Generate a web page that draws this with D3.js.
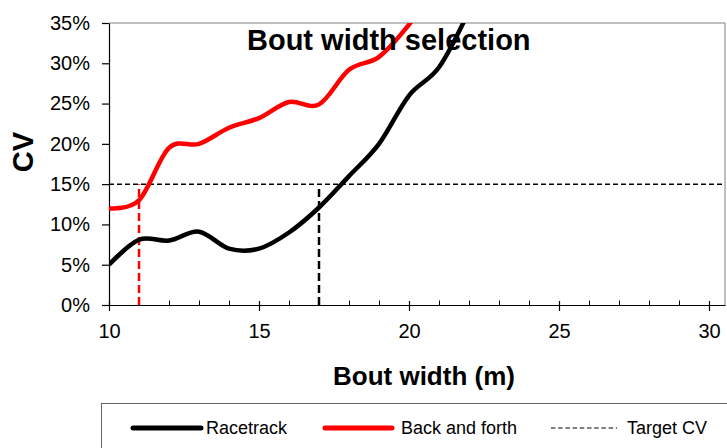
<!DOCTYPE html>
<html>
<head>
<meta charset="utf-8">
<script src="https://cdn.jsdelivr.net/npm/d3@7"></script>
<style>
  body { margin: 0; background: #fff; }
  svg { display: block; font-family: Arial, "Liberation Sans", sans-serif; }
</style>
</head>
<body>
<svg id="chart"></svg>
<script>
// bout widths (m) and CV (%) for each survey pattern
const boutWidths = [10, 11, 12, 13, 14, 15, 16, 17, 18, 19, 20, 21, 22];
const racetrackCV = [5, 8.1, 8, 9.1, 7, 7, 9, 12.1, 16, 20, 26, 29.5, 36.5];
const backForthCV = [12, 13, 19.5, 20, 22, 23.2, 25.2, 24.9, 29.2, 30.8, 34.8, 40];
const targetCV = 15;
const selectedWidths = { racetrack: 17, backForth: 11 };
const xTicks = [10, 15, 20, 25, 30];
const yTicks = [0, 5, 10, 15, 20, 25, 30, 35];
const legendLabels = ["Racetrack", "Back and forth", "Target CV"];

const width = 727;
const height = 448;
const plot = { left: 109, right: 725, top: 23, bottom: 305 };

const svg = d3.select("#chart")
    .attr("width", width)
    .attr("height", height);

const x = d3.scaleLinear().domain([10, 30.533]).range([plot.left, plot.right]);
const y = d3.scaleLinear().domain([0, 35]).range([plot.bottom, plot.top]);

// plot frame (grey top and right)
svg.append("path")
    .attr("d", `M${plot.left},${plot.top}H${plot.right}V${plot.bottom}`)
    .attr("fill", "none")
    .attr("stroke", "#808080")
    .attr("stroke-width", 1);

svg.append("defs").append("clipPath")
    .attr("id", "plot-clip")
    .append("rect")
    .attr("x", plot.left)
    .attr("y", plot.top)
    .attr("width", plot.right - plot.left)
    .attr("height", plot.bottom - plot.top);

// y axis
const yAxis = svg.append("g")
    .attr("transform", `translate(${plot.left},0)`)
    .call(d3.axisLeft(y)
        .tickValues(yTicks)
        .tickFormat(d => d + "%")
        .tickSize(7)
        .tickSizeOuter(0)
        .tickPadding(12));
yAxis.selectAll("text").attr("font-size", 20).attr("fill", "#000").attr("font-family", null);
yAxis.selectAll("line, path").attr("stroke", "#000").attr("stroke-width", 1.2);

// x axis: minor ticks inside, major ticks crossing
const xMinor = svg.append("g")
    .attr("transform", `translate(0,${plot.bottom})`)
    .call(d3.axisBottom(x)
        .tickValues(d3.range(11, 31).filter(d => d % 5 !== 0))
        .tickSize(-4.5)
        .tickSizeOuter(0)
        .tickFormat(""));
xMinor.select(".domain").remove();
xMinor.selectAll("line").attr("stroke", "#000");

const xAxis = svg.append("g")
    .attr("transform", `translate(0,${plot.bottom})`)
    .call(d3.axisBottom(x)
        .tickValues(xTicks)
        .tickSize(6)
        .tickSizeOuter(0));
xAxis.selectAll(".tick line").attr("y1", -4);
xAxis.selectAll("line, path").attr("stroke", "#000").attr("stroke-width", 1.2);
xAxis.selectAll("text")
    .attr("font-size", 20)
    .attr("font-family", null)
    .attr("fill", "#000")
    .attr("y", 33)
    .attr("dy", 0);

// target CV lines
const dataG = svg.append("g").attr("clip-path", "url(#plot-clip)");

dataG.append("line")
    .attr("x1", plot.left).attr("x2", plot.right)
    .attr("y1", y(targetCV)).attr("y2", y(targetCV))
    .attr("stroke", "#000")
    .attr("stroke-width", 1.5)
    .attr("stroke-dasharray", "5,3");

dataG.append("line")
    .attr("x1", x(selectedWidths.backForth)).attr("x2", x(selectedWidths.backForth))
    .attr("y1", y(0)).attr("y2", y(targetCV))
    .attr("stroke", "#ff0000")
    .attr("stroke-width", 2.5)
    .attr("stroke-dasharray", "8,4");

dataG.append("line")
    .attr("x1", x(selectedWidths.racetrack)).attr("x2", x(selectedWidths.racetrack))
    .attr("y1", y(0)).attr("y2", y(targetCV))
    .attr("stroke", "#000")
    .attr("stroke-width", 2.5)
    .attr("stroke-dasharray", "8,4");

// smoothed series
const line = d3.line()
    .x(d => x(d[0]))
    .y(d => y(d[1]))
    .curve(d3.curveCardinal.tension(0));

dataG.append("path")
    .datum(d3.zip(boutWidths, racetrackCV))
    .attr("d", line)
    .attr("fill", "none")
    .attr("stroke", "#000")
    .attr("stroke-width", 4.5)
    .attr("stroke-linejoin", "round");

dataG.append("path")
    .datum(d3.zip(boutWidths, backForthCV))
    .attr("d", line)
    .attr("fill", "none")
    .attr("stroke", "#ff0000")
    .attr("stroke-width", 4.5)
    .attr("stroke-linejoin", "round");

// titles
svg.append("text")
    .attr("x", 247)
    .attr("y", 50)
    .attr("font-size", 29)
    .attr("font-weight", "bold")
    .text("Bout width selection");

svg.append("text")
    .attr("x", 333)
    .attr("y", 385)
    .attr("font-size", 26)
    .attr("font-weight", "bold")
    .text("Bout width (m)");

svg.append("text")
    .attr("transform", "translate(32.5,152) rotate(-90)")
    .attr("text-anchor", "middle")
    .attr("font-size", 29)
    .attr("font-weight", "bold")
    .text("CV");

// legend
svg.append("rect")
    .attr("x", 101.5)
    .attr("y", 403.5)
    .attr("width", 700)
    .attr("height", 80)
    .attr("fill", "none")
    .attr("stroke", "#666")
    .attr("stroke-width", 1);

const legendY = 428;
const legendItems = [
    { label: legendLabels[0], x0: 133, x1: 201, tx: 206, color: "#000", w: 5, dash: null, cap: "round" },
    { label: legendLabels[1], x0: 325, x1: 392, tx: 401, color: "#ff0000", w: 5, dash: null, cap: "round" },
    { label: legendLabels[2], x0: 551, x1: 617, tx: 627, color: "#000", w: 1, dash: "4.5,2.7", cap: "butt" }
];

legendItems.forEach(item => {
    svg.append("line")
        .attr("x1", item.x0).attr("x2", item.x1)
        .attr("y1", legendY).attr("y2", legendY)
        .attr("stroke", item.color)
        .attr("stroke-width", item.w)
        .attr("stroke-linecap", item.cap)
        .attr("stroke-dasharray", item.dash);
    svg.append("text")
        .attr("x", item.tx)
        .attr("y", legendY)
        .attr("dy", "0.35em")
        .attr("font-size", 18)
        .text(item.label);
});
</script>
</body>
</html>
